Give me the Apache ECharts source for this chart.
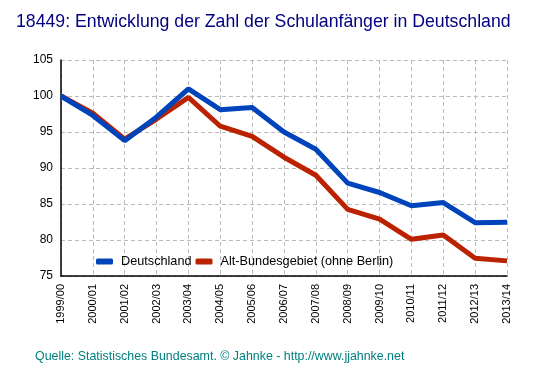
<!DOCTYPE html>
<html><head><meta charset="utf-8">
<script src="https://cdn.jsdelivr.net/npm/echarts@6/dist/echarts.min.js"></script>
<style>html,body{margin:0;padding:0;background:#fff}#c{width:553px;height:376px}</style>
</head><body><div id="c"></div>
<script>
var categories = ["1999/00","2000/01","2001/02","2002/03","2003/04","2004/05","2005/06","2006/07","2007/08","2008/09","2009/10","2010/11","2011/12","2012/13","2013/14"];
var deutschland = [100, 97.3, 93.8, 97.1, 101.0, 98.1, 98.4, 95.0, 92.6, 87.9, 86.6, 84.75, 85.2, 82.4, 82.45];
var altBundesgebiet = [100, 97.6, 94.0, 96.8, 99.8, 95.8, 94.4, 91.5, 89.0, 84.25, 82.9, 80.1, 80.7, 77.45, 77.1];
var yTicks = [75, 80, 85, 90, 95, 100, 105];
var titleText = "18449: Entwicklung der Zahl der Schulanfänger in Deutschland";
var sourceText = "Quelle: Statistisches Bundesamt. © Jahnke - http://www.jjahnke.net";

var chart = echarts.init(document.getElementById('c'), null, {renderer:'canvas'});
var font = '"Liberation Sans", Arial, sans-serif';
chart.setOption({
  animation: false,
  backgroundColor: '#fff',
  textStyle: {fontFamily: font},
  title: [
    {text: titleText, left: 16, top: 13, padding: 0, textStyle: {fontFamily: font, fontSize: 17.7, fontWeight: 'normal', color: '#000080'}},
    {text: sourceText, left: 35, top: 351, padding: 0, textStyle: {fontFamily: font, fontSize: 12.4, fontWeight: 'normal', color: '#008080'}}
  ],
  legend: {
    left: 96, top: 255, padding: 0, itemWidth: 17, itemHeight: 6, itemGap: 4, icon: 'roundRect',
    textStyle: {fontFamily: font, fontSize: 12.7, color: '#000', padding: [0, 0, 0, 3]},
    data: ['Deutschland', 'Alt-Bundesgebiet (ohne Berlin)']
  },
  grid: {left: 61, right: 46, top: 60, bottom: 100, containLabel: false},
  xAxis: {
    type: 'category', data: categories, boundaryGap: false,
    axisLine: {show: true, lineStyle: {color: '#000', width: 1.5}},
    axisTick: {show: false},
    axisLabel: {rotate: 90, color: '#000', fontSize: 11, fontFamily: font, margin: 8, interval: 0},
    splitLine: {show: true, lineStyle: {color: '#bbb', type: [4, 3], width: 1}}
  },
  yAxis: {
    type: 'value', min: yTicks[0], max: yTicks[yTicks.length - 1], interval: 5,
    axisLine: {show: true, lineStyle: {color: '#000', width: 1.5}},
    axisTick: {show: false},
    axisLabel: {color: '#000', fontSize: 12, fontFamily: font, margin: 8},
    splitLine: {show: true, lineStyle: {color: '#bbb', type: [4, 3], width: 1}}
  },
  series: [
    {name: 'Alt-Bundesgebiet (ohne Berlin)', type: 'line', data: altBundesgebiet, symbol: 'none', z: 2,
     lineStyle: {color: '#bb2200', width: 5}, itemStyle: {color: '#bb2200'}},
    {name: 'Deutschland', type: 'line', data: deutschland, symbol: 'none', z: 3,
     lineStyle: {color: '#0044bb', width: 5}, itemStyle: {color: '#0044bb'}}
  ]
});
</script></body></html>
